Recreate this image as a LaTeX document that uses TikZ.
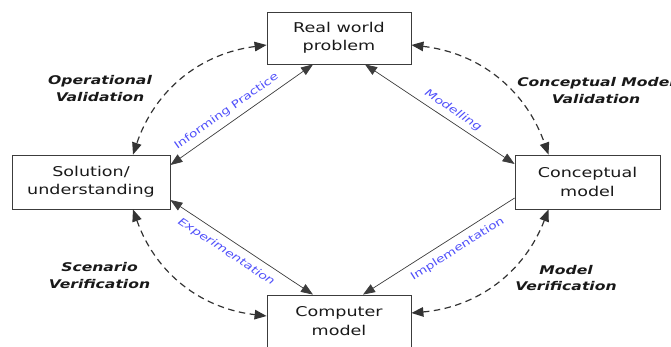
\documentclass[tikz,border=0pt]{standalone}
\usepackage{fontspec}
\usetikzlibrary{arrows.meta,calc}
\newfontfamily\boxfont[FakeStretch=1.3]{DejaVu Sans}
\definecolor{labelblue}{RGB}{80,80,250}
\definecolor{linegray}{RGB}{60,60,60}

\tikzset{
  stage/.style={draw=linegray, line width=0.8pt, minimum width=144pt, minimum height=52pt, align=center, inner sep=0pt, text=black!90, font=\boxfont\fontsize{13.5}{18.5}\selectfont},
  link/.style={draw=linegray, line width=0.7pt, arrows={Triangle[length=12pt,width=9pt]-Triangle[length=12pt,width=9pt]}},
  check/.style={draw=black!80, line width=1.2pt, dash pattern=on 6.5pt off 4.5pt, arrows={Triangle[length=12pt,width=9.5pt]-Triangle[length=12pt,width=9.5pt]}},
  linklabel/.style={sloped, inner sep=1pt, text=labelblue, font=\boxfont\fontsize{10.5}{12}\selectfont},
  checklabel/.style={align=center, inner sep=0pt, text=black!90, font=\boxfont\bfseries\itshape\fontsize{12}{16.5}\selectfont},
}

\begin{document}
\begin{tikzpicture}[x=1pt,y=1pt]

        \useasboundingbox (0,0) rectangle (671,-346);
        \clip (0,0) rectangle (671,-346);

        % the four stages
        \node[stage] (real) at (339,-38) {Real world\\problem};
        \node[stage, minimum width=158pt, minimum height=54pt] (sol) at (91,-182) {Solution/\\understanding};
        \node[stage, minimum width=145pt, minimum height=54pt] (conc) at (587.5,-182) {Conceptual\\model};
        \node[stage] (comp) at (339,-321) {Computer\\model};

        % solid links
        \draw[link] ([yshift=17pt]sol.east) -- node[linklabel, pos=0.44, above=5pt] {Informing Practice} ([xshift=-26pt]real.south);
        \draw[link] ([xshift=26pt]real.south) -- node[linklabel, pos=0.55, above=4pt, font=\boxfont\itshape\fontsize{10.5}{12}\selectfont] {Modelling} ([yshift=18pt]conc.west);
        \draw[link] ([yshift=-18pt]sol.east) -- node[linklabel, pos=0.44, below=6pt, font=\boxfont\itshape\fontsize{10.5}{12}\selectfont] {Experimentation} ([xshift=-26pt]comp.north);
        \draw[link, arrows={Triangle[length=12pt,width=9pt]-}] ([xshift=24pt]comp.north) -- node[linklabel, pos=0.58, below=6pt] {Implementation} ([yshift=-16pt]conc.west);

        % Dashed lines
        \draw[check] ([yshift=-7pt]real.west) to[bend right=32] ([xshift=42pt]sol.north);
        \draw[check] ([yshift=-7pt]real.east) to[bend left=32] ([xshift=-39pt]conc.north);
        \draw[check] ([xshift=42pt]sol.south) to[bend right=32] ([yshift=5pt]comp.west);
        \draw[check] ([xshift=-39pt]conc.south) to[bend left=32] ([yshift=8pt]comp.east);

        \node[checklabel] (opval) at (100,-88.5) {Operational\\Validation};
        \node[checklabel] (cmval) at (596,-90.5) {Conceptual Model\\Validation};
        \node[checklabel] (scver) at (99.5,-275.5) {Scenario\\Verification};
        \node[checklabel] (mver) at (566,-278) {Model\\Verification};

    \end{tikzpicture}
\end{document}
